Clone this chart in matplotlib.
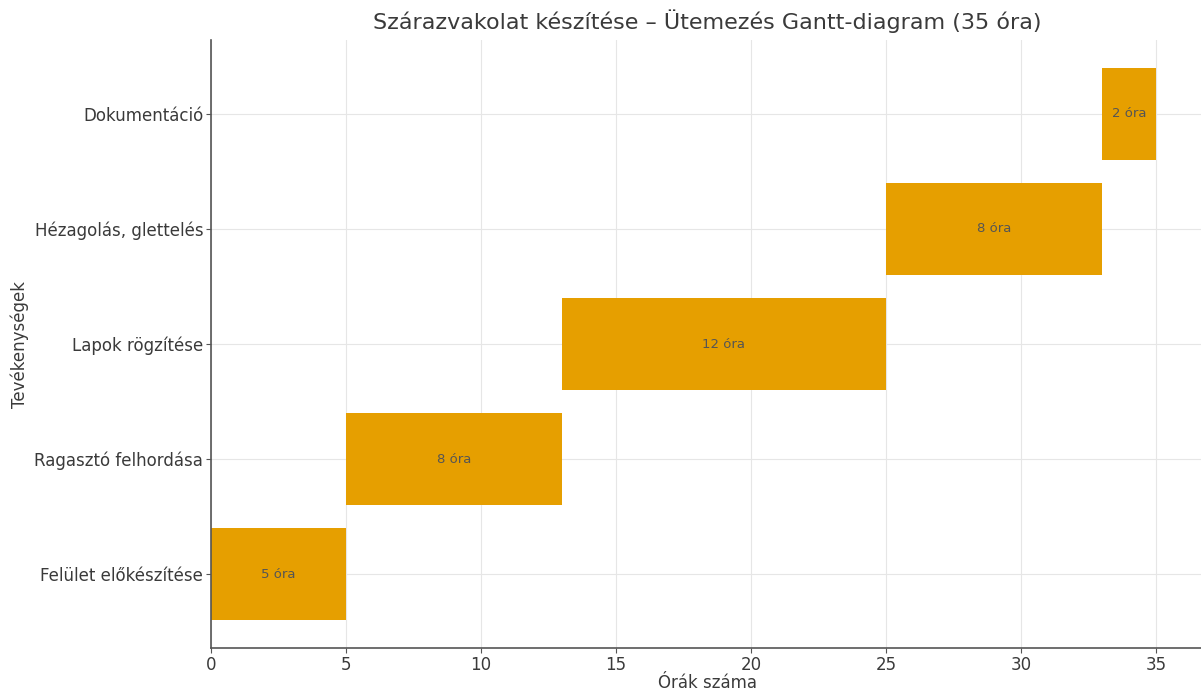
import matplotlib
matplotlib.use("Agg")
import matplotlib.pyplot as plt

tasks = ["Felület előkészítése", "Ragasztó felhordása", "Lapok rögzítése",
         "Hézagolás, glettelés", "Dokumentáció"]
starts = [0, 5, 13, 25, 33]
durations = [5, 8, 12, 8, 2]

plt.rcParams['font.family'] = ['DejaVu Sans']

fig = plt.figure(figsize=(12.01, 6.93), dpi=100)
ax = fig.add_axes([211 / 1201, 45 / 693, 992 / 1201, 608 / 693])

ax.barh(tasks, durations, left=starts, height=0.8, color="#E69F00", zorder=2)

for i, (s, d) in enumerate(zip(starts, durations)):
    ax.text(s + d / 2, i, f"{d} óra", ha="center", va="center",
            fontsize=9.5, color="#555555", zorder=3)

ax.set_xlim(0, 36.75)
ax.set_xticks([0, 5, 10, 15, 20, 25, 30, 35])
ax.grid(True, color="#e6e6e6", linewidth=0.8, zorder=0)
ax.set_axisbelow(True)

for side in ["top", "right"]:
    ax.spines[side].set_visible(False)
for side in ["left", "bottom"]:
    ax.spines[side].set_color("#555555")
    ax.spines[side].set_linewidth(1.2)

ax.tick_params(colors="#555555", labelcolor="#3a3a3a", labelsize=12, pad=2)
ax.set_xlabel("Órák száma", fontsize=12, color="#3a3a3a", labelpad=0)
ax.set_ylabel("Tevékenységek", fontsize=12, color="#3a3a3a", labelpad=4)
ax.set_title("Szárazvakolat készítése – Ütemezés Gantt-diagram (35 óra)",
             fontsize=16, color="#3a3a3a", pad=8)

fig.savefig("out.png", dpi=100)
